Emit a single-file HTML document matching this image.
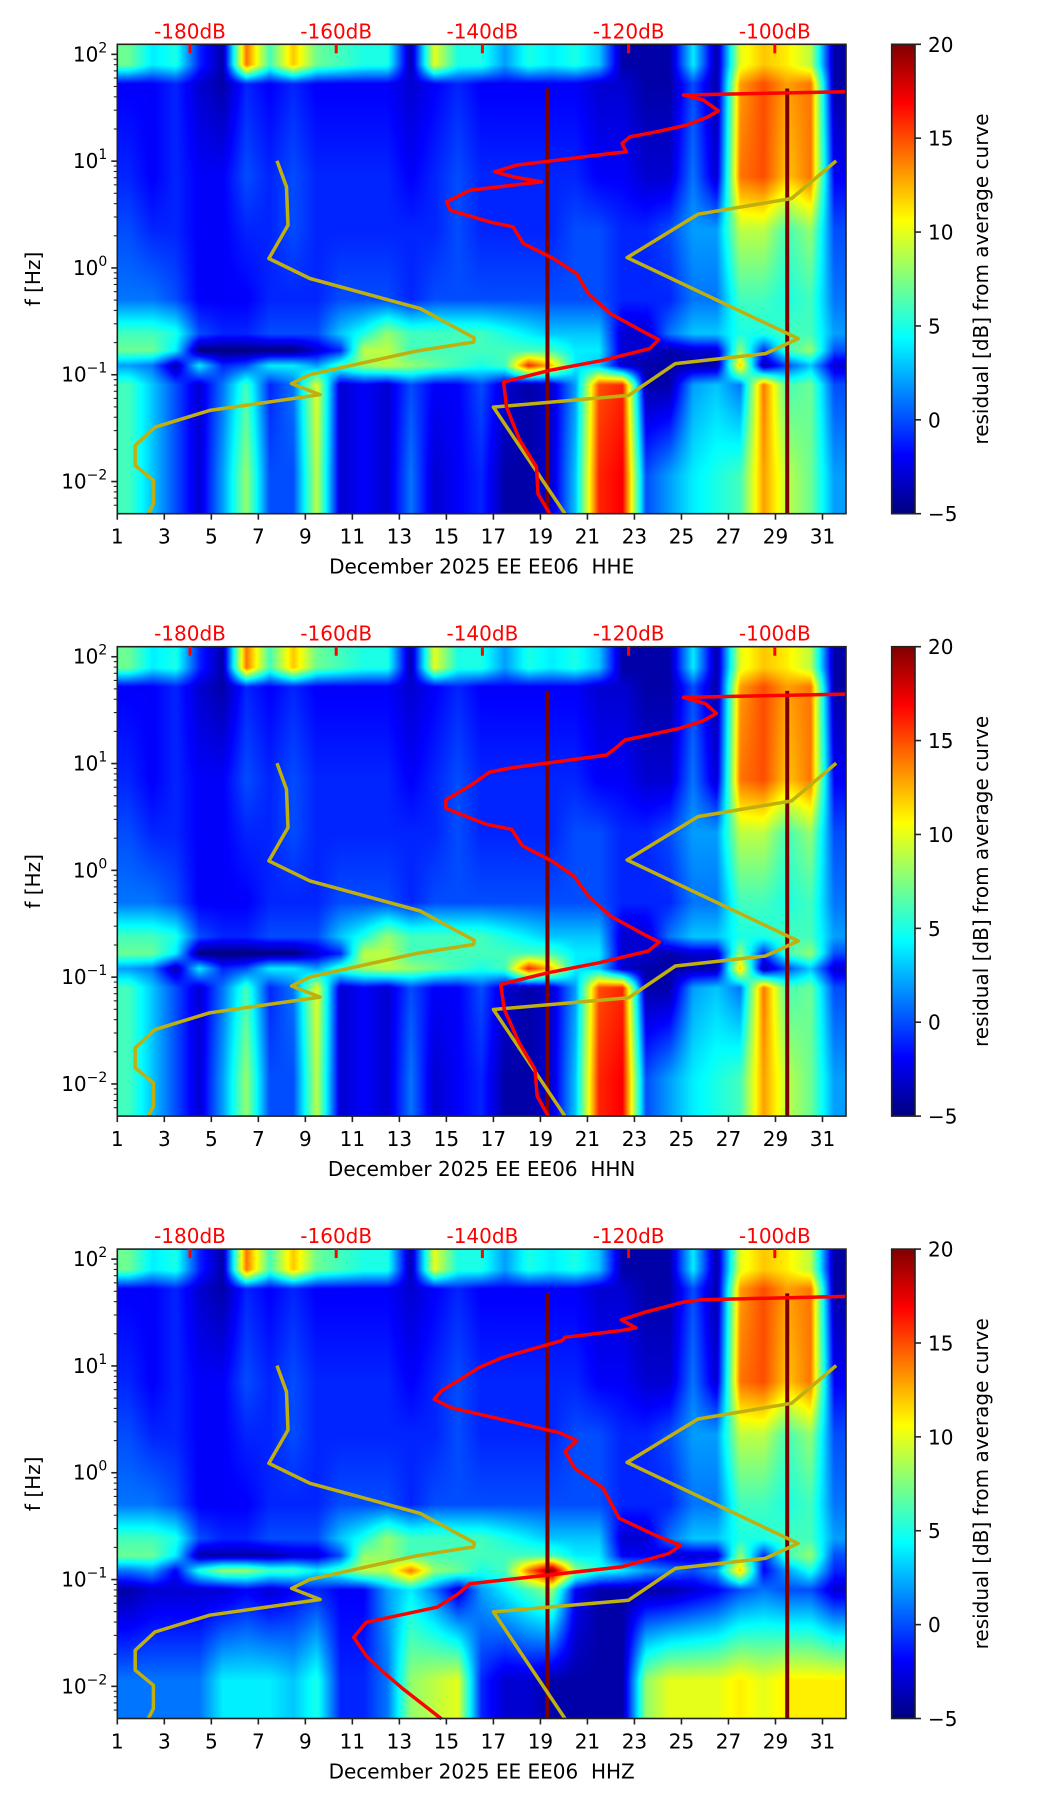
<!DOCTYPE html>
<html><head><meta charset="utf-8">
<style>
html,body{margin:0;padding:0;background:#fff;}
#wrap{position:relative;width:1052px;height:1806px;overflow:hidden;font-family:"DejaVu Sans","Liberation Sans",sans-serif;}
canvas{position:absolute;}
svg{position:absolute;left:0;top:0;}
</style></head>
<body>
<div id="wrap">
<canvas id="hm0"></canvas>
<canvas id="hm1"></canvas>
<canvas id="hm2"></canvas>
<svg id="ov" width="1052" height="1806">
<defs><linearGradient id="jet" x1="0" y1="1" x2="0" y2="0">
<stop offset="0" stop-color="#000080"/><stop offset="0.125" stop-color="#0000ff"/><stop offset="0.375" stop-color="#00ffff"/><stop offset="0.625" stop-color="#ffff00"/><stop offset="0.875" stop-color="#ff0000"/><stop offset="1" stop-color="#800000"/></linearGradient></defs>
</svg>
</div>
<script>
// ---------- data ----------
const channels = ["HHE","HHN","HHZ"];
const dbTicks = [-180,-160,-140,-120,-100];
const dayTicks = [1,3,5,7,9,11,13,15,17,19,21,23,25,27,29,31];
const cbTicks = [20,15,10,5,0,-5];
const markerDays = [19.3,29.5];
const markerTopLogF = 1.68;
// band centres (log10 Hz)
const bandLogF = [1.9,1.72,0.85,0.35,-0.3,-0.62,-0.78,-0.92,-1.1,-1.95];
// residual dB per day (days 1..31) per band, HHE/HHN
const bandE0=[7,4,5,-1,-4,14,6,12,7,6,5,5,-4,10,5,5,2,5,4,5,3,-4,-4,-4,4,-4,10,12,11,9,-4];
const bandE1=[-2,-2,-1,-3,-4,-1,-2,-1,-2,-2,-2,-2,-3,-2,-1,-2,-2,-2,-2,-2,-3,-3,-4,-4,0,-4,13,15,13,14,-4];
const bandE2=[-1,-2,-1,-2,-2,0,-1,0,-1,-1,-1,-1,-2,-1,0,-1,-1,-1,-1,-1,-2,-2,-3,-3,1,-3,14,15,12,14,-2];
const bandE3=[0,-1,-1,-2,-2,-1,-1,0,-1,-1,-1,-1,-1,-1,0,-1,-1,-1,-1,0,0,-1,-1,0,2,2,9,9,6,8,0];
const bandE4=[1,1,0,-2,-2,-2,-1,-1,-1,0,0,0,-1,0,0,0,0,0,0,0,0,-1,-1,-1,1,1,6,6,5,6,1];
const bandE5=[6,6,5,0,-1,-1,0,0,0,3,5,8,6,6,6,6,5,4,3,3,3,-3,-3,1,3,3,5,5,6,6,2];
const bandE6=[7,7,4,-5,-5,-5,-5,-5,-3,-1,9,9,6,6,6,6,6,6,6,4,4,-3,-3,-4,-3,-3,8,-1,6,8,0];
const bandE7=[2,1,-4,4,-1,0,4,4,2,6,8,9,8,7,6,5,6,16,12,4,3,-3,-4,-4,-4,-4,12,-4,0,3,-3];
const bandE8=[6,3,0,-3,1,6,-1,1,10,-3,-2,-3,0,-2,-2,0,-3,-4,-3,2,15,16,-4,-4,2,3,1,14,6,7,0];
const bandE9=[6,3,0,-3,2,8,0,0,9,-3,-2,-3,1,-3,-2,-1,-4,-4,-3,3,16,17,0,2,4,5,6,13,9,7,2];
// HHZ low-frequency bands
const bandZ6=[7,7,4,-4,-4,-4,-4,-3,-3,0,8,8,6,6,6,6,6,6,6,4,4,-2,-2,-3,-3,-3,8,-1,6,8,0];
const bandZ7=[1,2,-2,5,8,8,6,6,4,6,9,9,14,8,7,5,6,14,20,8,5,4,2,1,0,2,12,-2,2,5,-1];
const bandZ8=[-4,-3,-3,-3,-3,-2,-3,-2,-1,-2,-2,2,4,1,-3,2,4,6,8,-2,-4,-4,-4,-4,-3,-2,0,1,0,0,-3];
const bandZ9=[1,1,1,1,4,4,4,3,5,-1,-1,1,8,9,10,-1,-3,-3,-4,-4,-4,-4,8,10,10,10,11,10,11,11,11];
// yellow noise-model curves (dB, log10 f)
const lowModelDb=[-168.1,-166.8,-166.6,-169.2,-163.6,-148.5,-141.1,-141.2,-149.0,-163.6,-166.1,-162.2,-177.3,-184.8,-187.5,-187.5,-185.0,-185.0,-185.7];
const lowModelLogF=[1.003,0.759,0.400,0.088,-0.099,-0.381,-0.656,-0.694,-0.778,-0.999,-1.083,-1.187,-1.334,-1.491,-1.662,-1.849,-1.990,-2.208,-2.302];
const highModelDb=[-91.6,-97.7,-110.5,-120.2,-96.8,-101.3,-113.6,-120.0,-138.5,-128.7];
const highModelLogF=[1.003,0.650,0.503,0.097,-0.662,-0.802,-0.896,-1.193,-1.303,-2.302];
// red average PSD curves
const avgEDb=[-90.3,-112.5,-109.8,-107.7,-109.3,-112.1,-116.2,-119.8,-120.9,-120.3,-122.5,-129.8,-135.3,-138.3,-135.8,-131.9,-141.7,-144.9,-144.4,-139.0,-135.8,-134.4,-130.3,-127.1,-125.5,-122.5,-117.5,-115.9,-117.1,-123.5,-130.8,-137.1,-136.7,-134.9,-132.6,-132.4,-130.8];
const avgELogF=[1.650,1.619,1.572,1.471,1.410,1.337,1.275,1.228,1.166,1.087,1.072,1.009,0.963,0.900,0.853,0.806,0.728,0.619,0.541,0.431,0.384,0.229,0.088,-0.053,-0.240,-0.427,-0.615,-0.671,-0.755,-0.865,-0.958,-1.068,-1.303,-1.612,-1.865,-2.114,-2.302];
const avgNDb=[-90.3,-112.5,-109.5,-108.0,-109.8,-113.0,-117.0,-120.5,-121.5,-123.0,-130.5,-136.0,-139.0,-141.5,-145.0,-145.0,-139.5,-136.0,-134.5,-130.5,-127.5,-125.5,-122.5,-117.5,-115.8,-117.3,-124.0,-131.0,-137.5,-137.0,-135.0,-132.8,-132.5,-131.0];
const avgNLogF=[1.650,1.619,1.560,1.470,1.400,1.330,1.270,1.220,1.160,1.080,1.010,0.960,0.920,0.800,0.660,0.580,0.431,0.384,0.229,0.088,-0.053,-0.240,-0.427,-0.615,-0.671,-0.755,-0.865,-0.958,-1.068,-1.303,-1.612,-1.865,-2.114,-2.302];
const avgZDb=[-90.2,-109.9,-112.5,-117.7,-121.0,-119.0,-121.0,-128.7,-129.1,-137.2,-140.4,-143.0,-145.6,-146.6,-144.3,-129.4,-127.1,-128.7,-127.4,-123.5,-121.3,-116.4,-112.9,-114.5,-121.0,-129.4,-141.7,-143.3,-146.2,-155.9,-157.6,-155.9,-154.0,-150.8,-145.6];
const avgZLogF=[1.651,1.620,1.598,1.504,1.432,1.356,1.332,1.268,1.237,1.080,0.986,0.876,0.767,0.688,0.609,0.374,0.302,0.200,0.044,-0.144,-0.426,-0.584,-0.679,-0.756,-0.882,-0.945,-1.039,-1.133,-1.259,-1.400,-1.542,-1.714,-1.840,-2.028,-2.305];

// ---------- geometry ----------
const L=117.3, R=846, PH=469.4, PSTEP=602.4, T0=44.3;
const DAY0=1, DAY1=32, LOGMIN=-2.301, LOGMAX=2.094;
function topOf(p){return T0+p*PSTEP;}
function xDay(d){return L+(d-DAY0)/(DAY1-DAY0)*(R-L);}
function yLog(p,lf){return topOf(p)+(LOGMAX-lf)/(LOGMAX-LOGMIN)*PH;}
function xDb(db){return 190+(db+180)*7.31;}
function cbY(p,v){return topOf(p)+PH-(v+5)/25*PH;}

function jet(t){t=Math.max(0,Math.min(1,t));
 const c=x=>Math.round(255*Math.max(0,Math.min(1,1.5-Math.abs(x))));
 return [c(4*t-3),c(4*t-2),c(4*t-1)];}

const gridE=[bandE0,bandE1,bandE2,bandE3,bandE4,bandE5,bandE6,bandE7,bandE8,bandE9];
const gridZ=[bandE0,bandE1,bandE2,bandE3,bandE4,bandE5,bandZ6,bandZ7,bandZ8,bandZ9];
const grids=[gridE,gridE,gridZ];

function sampleDay(arr,t){let i=t-1.5;if(i<=0)return arr[0];if(i>=arr.length-1)return arr[arr.length-1];
 const i0=Math.floor(i),f=i-i0;return arr[i0]*(1-f)+arr[i0+1]*f;}

function drawHeat(p){
 const cv=document.getElementById('hm'+p);
 const W=Math.round(R-L), H=Math.round(PH);
 cv.width=W;cv.height=H;cv.style.left=L+'px';cv.style.top=topOf(p)+'px';
 cv.style.width=W+'px';cv.style.height=H+'px';
 const ctx=cv.getContext('2d');const img=ctx.createImageData(W,H);const g=grids[p];
 const cols=[];for(let x=0;x<W;x++){const t=DAY0+(x+0.5)/W*(DAY1-DAY0);cols.push(g.map(a=>sampleDay(a,t)));}
 for(let y=0;y<H;y++){
  const lf=LOGMAX-(y+0.5)/H*(LOGMAX-LOGMIN);
  let b0=0,b1=0,f=0;
  if(lf>=bandLogF[0]){b0=b1=0;}else if(lf<=bandLogF[bandLogF.length-1]){b0=b1=bandLogF.length-1;}
  else{for(let k=0;k<bandLogF.length-1;k++){if(lf<=bandLogF[k]&&lf>bandLogF[k+1]){b0=k;b1=k+1;f=(bandLogF[k]-lf)/(bandLogF[k]-bandLogF[k+1]);break;}}}
  for(let x=0;x<W;x++){const v=cols[x][b0]*(1-f)+cols[x][b1]*f;const c=jet((v+5)/25);
   const o=(y*W+x)*4;img.data[o]=c[0];img.data[o+1]=c[1];img.data[o+2]=c[2];img.data[o+3]=255;}
 }
 ctx.putImageData(img,0,0);
}

const NS='http://www.w3.org/2000/svg';
const svg=document.getElementById('ov');
function mk(tag,attrs,parent){const e=document.createElementNS(NS,tag);for(const k in attrs)e.setAttribute(k,attrs[k]);(parent||svg).appendChild(e);return e;}
function txt(s,attrs,parent){const e=mk('text',attrs,parent);e.textContent=s;return e;}

const avgDb=[avgEDb,avgNDb,avgZDb], avgLF=[avgELogF,avgNLogF,avgZLogF];

for(let p=0;p<3;p++){
 drawHeat(p);
 const T=topOf(p),B=T+PH;
 const g=mk('g',{});
 
 
 markerDays.forEach(d=>{const l=mk('line',{x1:xDay(d),x2:xDay(d),y1:yLog(p,markerTopLogF),y2:B,stroke:'#7a0000','stroke-width':4},g);
  
  });
 [[lowModelDb,lowModelLogF,'low-noise-model'],[highModelDb,highModelLogF,'high-noise-model']].forEach(m=>{
  const pts=m[0].map((v,i)=>xDb(v).toFixed(1)+','+yLog(p,m[1][i]).toFixed(1)).join(' ');
  const pl=mk('polyline',{points:pts,fill:'none',stroke:'#bfb010','stroke-width':3.5,'stroke-linejoin':'round'},g);
  
  });
 const pts=avgDb[p].map((v,i)=>xDb(v).toFixed(1)+','+yLog(p,avgLF[p][i]).toFixed(1)).join(' ');
 const ac=mk('polyline',{points:pts,fill:'none',stroke:'#ff0000','stroke-width':3.5,'stroke-linejoin':'round'},g);
 
 
 const fr=mk('rect',{x:L,y:T,width:R-L,height:PH,fill:'none',stroke:'#222','stroke-width':1.6},g);
 
 
 dbTicks.forEach(db=>{const x=xDb(db);
  const tk=mk('line',{x1:x,x2:x,y1:T,y2:T+9,stroke:'#ff0000','stroke-width':3},g);
  
  
  const t=txt(db+'dB',{x:x,y:T-6,'text-anchor':'middle','font-size':20,fill:'#ff0000'},g);
  
  });
 dayTicks.forEach(d=>{const x=xDay(d);
  const tk=mk('line',{x1:x,x2:x,y1:B,y2:B+6,stroke:'#222','stroke-width':1.6},g);
  
  
  const t=txt(String(d),{x:x,y:B+30,'text-anchor':'middle','font-size':20,fill:'#000'},g);
  
  });
 const xl=txt('December 2025 EE EE06\u00a0\u00a0'+channels[p],{x:(L+R)/2,y:B+60,'text-anchor':'middle','font-size':20,fill:'#000'},g);
 
 
 for(let k=-3;k<=2;k++){for(let m=1;m<=9;m++){const lf=k+Math.log10(m);if(lf<LOGMIN||lf>LOGMAX)continue;const y=yLog(p,lf);
  const tk=mk('line',{x1:L-(m===1?6:3.5),x2:L,y1:y,y2:y,stroke:'#222','stroke-width':m===1?1.6:1.1},g);
  
  
  if(m===1){const t=txt('',{x:L-10,y:y+7,'text-anchor':'end','font-size':20,fill:'#000'},g);
   
   
   const a=mk('tspan',{},t);a.textContent='10';
   const b=mk('tspan',{dy:-9,'font-size':14},t);b.textContent=(k<0?'\u2212':'')+Math.abs(k);}
 }}
 const yl=txt('f [Hz]',{x:0,y:0,transform:'translate(40,'+(T+PH/2)+') rotate(-90)','text-anchor':'middle','font-size':20,fill:'#000'},g);
 
 
 const cb=mk('rect',{x:891.7,y:T,width:23.3,height:PH,fill:'url(#jet)',stroke:'#222','stroke-width':1.6},g);
 
 
 cbTicks.forEach(v=>{const y=cbY(p,v);
  const tk=mk('line',{x1:915,x2:921,y1:y,y2:y,stroke:'#222','stroke-width':1.6},g);
  
  
  const t=txt(v<0?'\u2212'+Math.abs(v):String(v),{x:928,y:y+7.5,'font-size':20,fill:'#000'},g);
  
  });
 const cl=txt('residual [dB] from average curve',{x:0,y:0,transform:'translate(988,'+(T+PH/2)+') rotate(-90)','text-anchor':'middle','font-size':20,fill:'#000'},g);
 
 
}
</script>
</body></html>
